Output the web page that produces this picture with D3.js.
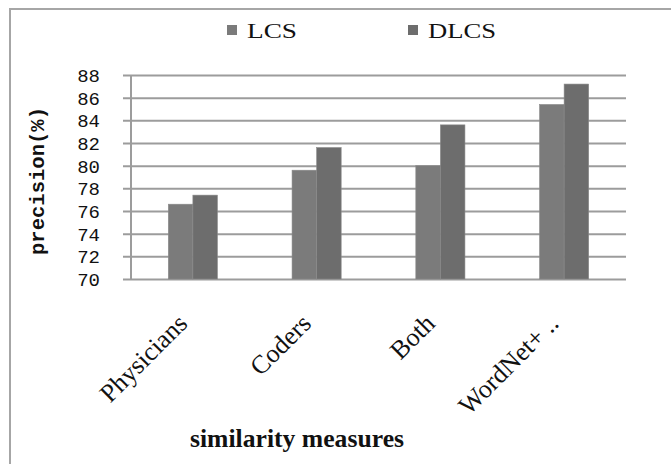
<!DOCTYPE html>
<html>
<head>
<meta charset="utf-8">
<script src="https://cdn.jsdelivr.net/npm/d3@7"></script>
<style>
  html, body { margin: 0; padding: 0; background: #fff; }
  svg { display: block; }
</style>
</head>
<body>
<svg id="chart" width="671" height="464"></svg>
<script>
// Precision of each similarity measure for the two string-matching methods
const categories = ["Physicians", "Coders", "Both", "WordNet+ .."];
const seriesNames = ["LCS", "DLCS"];
const lcsValues  = [76.6, 79.6, 80.0, 85.4];
const dlcsValues = [77.4, 81.6, 83.6, 87.2];
const yTicks = [70, 72, 74, 76, 78, 80, 82, 84, 86, 88];

const colors = { LCS: "#7b7b7b", DLCS: "#6d6d6d" };
const rows = categories.map((c, i) => ({ category: c, LCS: lcsValues[i], DLCS: dlcsValues[i] }));

const svg = d3.select("#chart");
const W = 671, H = 464;
const plot = { left: 131, right: 626, top: 75, bottom: 279 };

// outer frame (only top and left edges fall inside the view)
svg.append("rect")
  .attr("x", 10).attr("y", 9)
  .attr("width", W + 20).attr("height", H + 20)
  .attr("fill", "#fff").attr("stroke", "#a6a6a6").attr("stroke-width", 2);

const x = d3.scaleBand().domain(categories).range([plot.left, plot.right]).paddingInner(0).paddingOuter(0);
const xInner = d3.scaleBand().domain(seriesNames).range([0, x.bandwidth()]).paddingInner(0).paddingOuter(1.52);
const y = d3.scaleLinear().domain([70, 88]).range([plot.bottom, plot.top]);

// horizontal gridlines, extended left to form tick marks
const gGrid = svg.append("g").attr("transform", `translate(${plot.right},0)`).call(
  d3.axisLeft(y).tickValues(yTicks).tickSize(plot.right - plot.left + 8).tickFormat(""));
gGrid.select(".domain").remove();
gGrid.selectAll(".tick line").attr("stroke", "#9c9c9c").attr("stroke-width", 2);

// y tick labels (monospaced digits)
svg.append("g").selectAll("text").data(yTicks).join("text")
  .attr("x", 100)
  .attr("y", d => y(d) + 7)
  .attr("text-anchor", "end")
  .attr("font-family", "Liberation Mono, DejaVu Sans Mono, monospace")
  .attr("font-size", 19)
  .attr("fill", "#111")
  .text(d => d);

// bars
const groups = svg.append("g").selectAll("g").data(rows).join("g")
  .attr("transform", d => `translate(${x(d.category)},0)`);
groups.selectAll("rect").data(d => seriesNames.map(k => ({ key: k, value: d[k] }))).join("rect")
  .attr("x", d => xInner(d.key))
  .attr("y", d => y(d.value))
  .attr("width", xInner.bandwidth())
  .attr("height", d => y(70) - y(d.value))
  .attr("fill", d => colors[d.key])
  .attr("stroke", "#8a8a8a").attr("stroke-width", 0.6);

// vertical axis line
svg.append("line")
  .attr("x1", plot.left).attr("x2", plot.left)
  .attr("y1", plot.top).attr("y2", plot.bottom)
  .attr("stroke", "#9c9c9c").attr("stroke-width", 2);

// category labels rotated 45 degrees
svg.append("g").selectAll("text").data(categories).join("text")
  .attr("transform", d => `translate(${x(d) + x.bandwidth() / 2 - 4},${plot.bottom + 46}) rotate(-45)`)
  .attr("text-anchor", "end")
  .attr("font-family", "Liberation Serif, Times New Roman, serif")
  .attr("font-size", 26)
  .attr("fill", "#111")
  .text(d => d);

// axis titles
svg.append("text")
  .attr("x", 297).attr("y", 447)
  .attr("text-anchor", "middle")
  .attr("font-family", "Liberation Serif, Times New Roman, serif")
  .attr("font-weight", "bold")
  .attr("font-size", 26)
  .attr("textLength", 214).attr("lengthAdjust", "spacingAndGlyphs")
  .attr("fill", "#111")
  .text("similarity measures");

svg.append("text")
  .attr("transform", "translate(44,181) rotate(-90)")
  .attr("text-anchor", "middle")
  .attr("font-family", "Liberation Mono, DejaVu Sans Mono, monospace")
  .attr("font-weight", "bold")
  .attr("font-size", 20)
  .attr("textLength", 148).attr("lengthAdjust", "spacingAndGlyphs")
  .attr("fill", "#111")
  .text("precision(%)");

// legend
const legendPos = [{ key: "LCS", x: 227, w: 50 }, { key: "DLCS", x: 408, w: 68 }];
const lg = svg.append("g").selectAll("g").data(legendPos).join("g")
  .attr("transform", d => `translate(${d.x},0)`);
lg.append("rect").attr("x", 0).attr("y", 25).attr("width", 10).attr("height", 10)
  .attr("fill", d => colors[d.key]);
lg.append("text").attr("x", 20).attr("y", 38)
  .attr("font-family", "Liberation Serif, Times New Roman, serif")
  .attr("font-size", 20)
  .attr("textLength", d => d.w).attr("lengthAdjust", "spacingAndGlyphs")
  .attr("fill", "#111")
  .text(d => d.key);
</script>
</body>
</html>
